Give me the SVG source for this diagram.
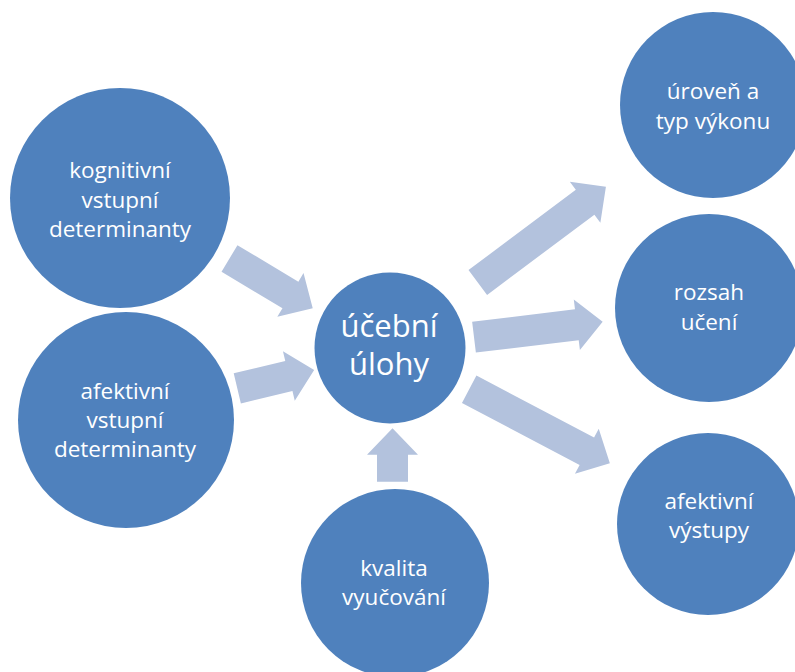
<svg xmlns="http://www.w3.org/2000/svg" width="795" height="672" viewBox="0 0 795 672">
  <style>
    .node { fill: #4F81BD; }
    .lbl { fill: #FFFFFF; font-family: "Open Sans", "Noto Sans", "DejaVu Sans", sans-serif; font-size: 22.5px; text-anchor: middle; }
    .big { font-size: 31px; }
    .arrow { fill: #B3C2DD; }
  </style>
  <rect width="795" height="672" fill="#FFFFFF"/>

  <!-- block arrows -->
  <g id="connectors">
    <polygon class="arrow" transform="translate(229.5,258.5) rotate(30.9)" points="0,-15.5 71,-15.5 71,-25.5 97,0 71,25.5 71,15.5 0,15.5"/>
    <polygon class="arrow" transform="translate(237.3,388.3) rotate(-13.4)" points="0,-15.5 53,-15.5 53,-25.5 79,0 53,25.5 53,15.5 0,15.5"/>
    <polygon class="arrow" transform="translate(392.5,481.7) rotate(-90)" points="0,-15.5 27,-15.5 27,-25.5 53.4,0 27,25.5 27,15.5 0,15.5"/>
    <polygon class="arrow" transform="translate(477.8,282.5) rotate(-36.8)" points="0,-15.5 134,-15.5 134,-25.5 160,0 134,25.5 134,15.5 0,15.5"/>
    <polygon class="arrow" transform="translate(474,337.2) rotate(-6.9)" points="0,-15.5 103.6,-15.5 103.6,-25.5 129.6,0 103.6,25.5 103.6,15.5 0,15.5"/>
    <polygon class="arrow" transform="translate(469.2,389.2) rotate(27.8)" points="0,-15.5 133,-15.5 133,-25.5 159,0 133,25.5 133,15.5 0,15.5"/>
  </g>

  <g id="kognitivni">
    <circle class="node" cx="120" cy="198" r="110"/>
    <text class="lbl" x="120" y="178">kognitivní</text>
    <text class="lbl" x="120" y="208">vstupní</text>
    <text class="lbl" x="120" y="237">determinanty</text>
  </g>

  <g id="afektivni-vstupni">
    <circle class="node" cx="126" cy="420" r="108"/>
    <text class="lbl" x="125" y="399">afektivní</text>
    <text class="lbl" x="125" y="428">vstupní</text>
    <text class="lbl" x="125" y="457">determinanty</text>
  </g>

  <g id="ucebni-ulohy">
    <circle class="node" cx="390" cy="348" r="75.5"/>
    <text class="lbl big" x="389" y="337">účební</text>
    <text class="lbl big" x="389" y="375">úlohy</text>
  </g>

  <g id="kvalita">
    <circle class="node" cx="395" cy="583" r="94"/>
    <text class="lbl" x="394" y="576">kvalita</text>
    <text class="lbl" x="394" y="605">vyučování</text>
  </g>

  <g id="uroven">
    <circle class="node" cx="713" cy="105" r="93"/>
    <text class="lbl" x="713" y="99">úroveň a</text>
    <text class="lbl" x="713" y="129">typ výkonu</text>
  </g>

  <g id="rozsah">
    <circle class="node" cx="709" cy="308" r="94"/>
    <text class="lbl" x="709" y="300">rozsah</text>
    <text class="lbl" x="709" y="330">učení</text>
  </g>

  <g id="afektivni-vystupy">
    <circle class="node" cx="708" cy="524" r="91"/>
    <text class="lbl" x="709" y="509">afektivní</text>
    <text class="lbl" x="709" y="538">výstupy</text>
  </g>
</svg>
